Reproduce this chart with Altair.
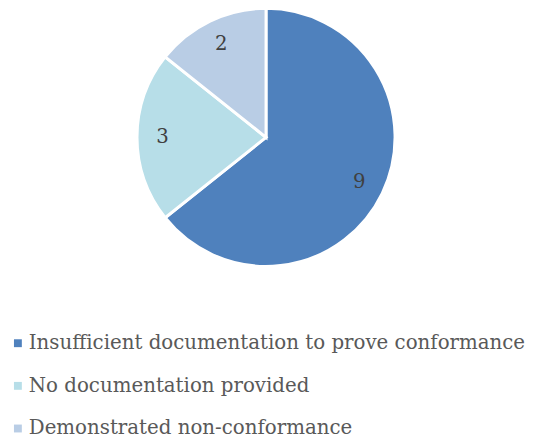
import altair as alt
import pandas as pd

categories = ["Insufficient documentation to prove conformance",
              "No documentation provided",
              "Demonstrated non-conformance"]
values = [9, 3, 2]
colors = ["#4F81BD", "#B7DEE8", "#B9CDE5"]

df = pd.DataFrame({"cat": categories, "value": values, "order": [0, 1, 2]})

cx, cy = 262, 128

base = alt.Chart(df).encode(
    theta=alt.Theta("value:Q", stack=True),
    order=alt.Order("order:Q"),
)

pie = base.mark_arc(radius=131, stroke="white", strokeWidth=3).encode(
    x=alt.value(cx), y=alt.value(cy),
    color=alt.Color("cat:N", sort=categories,
                    scale=alt.Scale(domain=categories, range=colors),
                    legend=alt.Legend(title=None, orient="none", legendX=0, legendY=327,
                                      symbolType="square", symbolSize=64,
                                      symbolStrokeWidth=0,
                                      labelFont="DejaVu Serif", labelFontSize=20.1,
                                      labelColor="#595959", rowPadding=22.3,
                                      labelLimit=600, labelOffset=1)),
)

labels = base.mark_text(radius=105, font="DejaVu Serif", fontSize=20, color="#404040").encode(
    x=alt.value(cx), y=alt.value(cy),
    text="value:Q",
)

chart = (pie + labels).properties(
    width=527, height=432, padding=0,
    autosize=alt.AutoSizeParams(type="none"),
).configure_view(stroke=None)

chart.save("out.html", embed_options={"renderer": "svg", "actions": False})
